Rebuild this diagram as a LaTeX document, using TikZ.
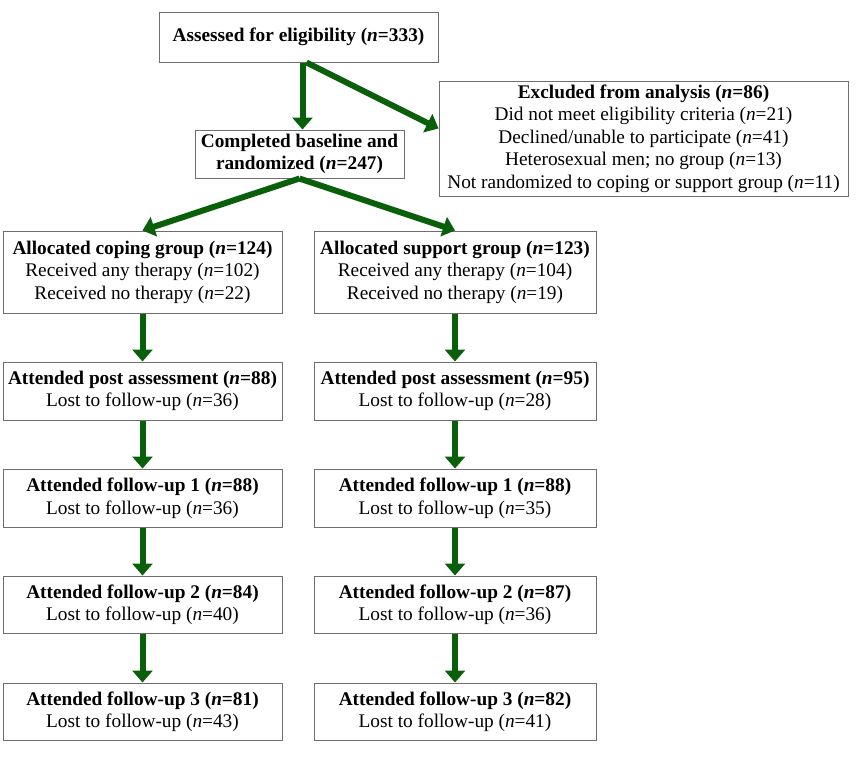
\documentclass[tikz,border=0pt]{standalone}
\usepackage{fontspec}
\setmainfont{Liberation Serif}
\usetikzlibrary{arrows.meta}
\definecolor{arrgreen}{RGB}{10,95,10}
\definecolor{boxgray}{RGB}{110,110,110}
\newcommand{\nn}{\textit{n}}
\newcommand{\bn}{\textbf{\textit{n}}}
\tikzset{
  box/.style={draw=boxgray, line width=1pt, align=center, inner sep=0pt, fill=white,
    font=\fontsize{19.3}{22.5}\selectfont},
  arr/.style={draw=arrgreen, line width=6pt, -{Triangle[width=20pt,length=12pt]}, arrgreen},
}
\begin{document}
\begin{tikzpicture}
\useasboundingbox (0pt,0pt) rectangle (867pt,-764pt);
\node[box, minimum width=279pt, minimum height=50pt] (top) at (298.5pt,-37pt) {\textbf{Assessed for eligibility (\bn=333)}};
\node[box, minimum width=209pt, minimum height=48pt] (rand) at (299.5pt,-154pt) {\textbf{Completed baseline and}\\\textbf{randomized (\bn=247)}};
\node[box, minimum width=409pt, minimum height=115pt] (excl) at (643.5pt,-138.5pt) {\textbf{Excluded from analysis (\bn=86)}\\Did not meet eligibility criteria (\nn=21)\\Declined/unable to participate (\nn=41)\\Heterosexual men; no group (\nn=13)\\Not randomized to coping or support group (\nn=11)};
\node[box, minimum width=279pt, minimum height=82pt] (c1) at (142.5pt,-272pt) {\textbf{Allocated coping group (\bn=124)}\\Received any therapy (\nn=102)\\Received no therapy (\nn=22)};
\node[box, minimum width=282pt, minimum height=82pt] (s1) at (455pt,-272pt) {\textbf{Allocated support group (\bn=123)}\\Received any therapy (\nn=104)\\Received no therapy (\nn=19)};
\node[box, minimum width=279pt, minimum height=58pt] (c2) at (142.5pt,-391pt) {\textbf{Attended post assessment (\bn=88)}\\Lost to follow-up (\nn=36)};
\node[box, minimum width=282pt, minimum height=58pt] (s2) at (455pt,-391pt) {\textbf{Attended post assessment (\bn=95)}\\Lost to follow-up (\nn=28)};
\node[box, minimum width=279pt, minimum height=58pt] (c3) at (142.5pt,-498pt) {\textbf{Attended follow-up 1 (\bn=88)}\\Lost to follow-up (\nn=36)};
\node[box, minimum width=282pt, minimum height=58pt] (s3) at (455pt,-498pt) {\textbf{Attended follow-up 1 (\bn=88)}\\Lost to follow-up (\nn=35)};
\node[box, minimum width=279pt, minimum height=57pt] (c4) at (142.5pt,-604.5pt) {\textbf{Attended follow-up 2 (\bn=84)}\\Lost to follow-up (\nn=40)};
\node[box, minimum width=282pt, minimum height=57pt] (s4) at (455pt,-604.5pt) {\textbf{Attended follow-up 2 (\bn=87)}\\Lost to follow-up (\nn=36)};
\node[box, minimum width=279pt, minimum height=57pt] (c5) at (142.5pt,-711.5pt) {\textbf{Attended follow-up 3 (\bn=81)}\\Lost to follow-up (\nn=43)};
\node[box, minimum width=282pt, minimum height=57pt] (s5) at (455pt,-711.5pt) {\textbf{Attended follow-up 3 (\bn=82)}\\Lost to follow-up (\nn=41)};
\coordinate (split) at ([xshift=4pt]top.south);
\draw[arr] (split) -- (split |- rand.north);
\draw[arr] ([xshift=4pt]split) -- ([yshift=10pt]excl.west);
\draw[arr] (rand.south) -- (c1.north);
\draw[arr] (rand.south) -- (s1.north);
\draw[arr] (c1) -- (c2);
\draw[arr] (c2) -- (c3);
\draw[arr] (c3) -- (c4);
\draw[arr] (c4) -- (c5);
\draw[arr] (s1) -- (s2);
\draw[arr] (s2) -- (s3);
\draw[arr] (s3) -- (s4);
\draw[arr] (s4) -- (s5);
\end{tikzpicture}
\end{document}
